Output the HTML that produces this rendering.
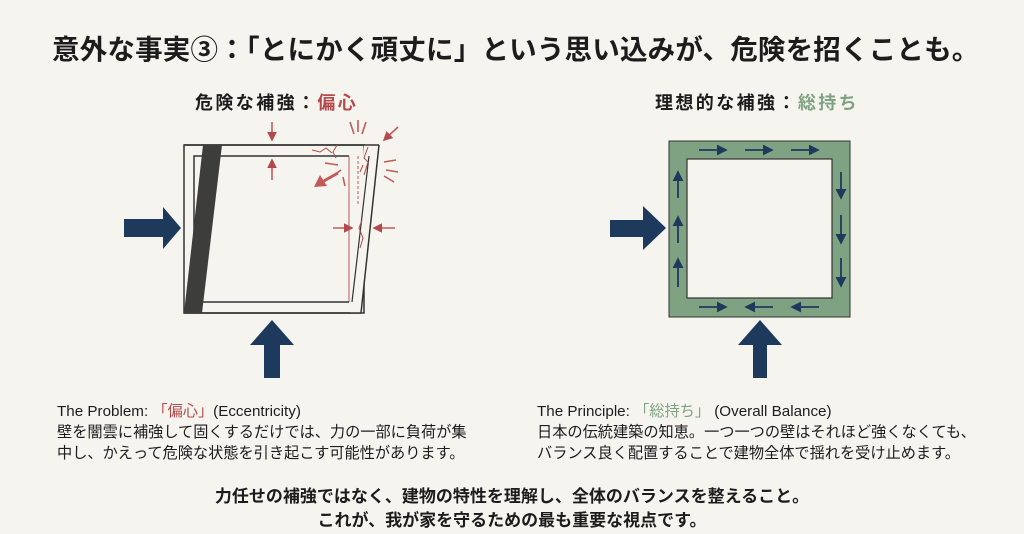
<!DOCTYPE html>
<html><head><meta charset="utf-8"><style>
body{margin:0;width:1024px;height:534px;background:#f6f4ef;overflow:hidden;position:relative;font-family:"Liberation Sans","Noto Sans CJK JP",sans-serif;color:#1c1c1c}
.t{position:absolute;white-space:nowrap}
</style></head><body>
<div class="t" style="left:52px;top:27px;font-size:27.5px;font-weight:bold;letter-spacing:0.2px">意外な事実③：「とにかく頑丈に」という思い込みが、危険を招くことも。</div>
<div class="t" style="left:195px;top:89px;font-size:18px;font-weight:bold;letter-spacing:2.4px">危険な補強：<span style="color:#b5484a">偏心</span></div>
<div class="t" style="left:655px;top:89px;font-size:18px;font-weight:bold;letter-spacing:2.4px">理想的な補強：<span style="color:#7fa283">総持ち</span></div>
<svg width="1024" height="534" style="position:absolute;left:0;top:0">
<defs>
<marker id="rh" markerWidth="6" markerHeight="6" refX="5" refY="3" orient="auto"><path d="M0,0 L6,3 L0,6 z" fill="#b5484a"/></marker>
<marker id="bh" markerWidth="6" markerHeight="6" refX="5" refY="3" orient="auto"><path d="M0,0 L6,3 L0,6 z" fill="#1d3a5c"/></marker>
</defs>
<rect x="184" y="145" width="180" height="168" fill="none" stroke="#333" stroke-width="1.5"/>
<polygon points="364,145 379,145 361,313 350,313" fill="#f6f4ef"/>
<line x1="184" y1="313" x2="361" y2="313" stroke="#333" stroke-width="1.5"/>
<line x1="379" y1="145" x2="361" y2="313" stroke="#333" stroke-width="1.5"/>
<line x1="184" y1="145" x2="379" y2="145" stroke="#333" stroke-width="1.5"/>
<polyline points="194,302 194,156 349,156" fill="none" stroke="#333" stroke-width="1.5"/>
<line x1="349" y1="156" x2="349" y2="302" stroke="#c25a5a" stroke-width="1"/>
<line x1="194" y1="302" x2="349" y2="302" stroke="#333" stroke-width="1.5"/>
<line x1="369" y1="156" x2="352" y2="302" stroke="#333" stroke-width="1.2"/>
<line x1="358" y1="156" x2="358" y2="205" stroke="#c25a5a" stroke-width="1" stroke-dasharray="3,2"/>
<polygon points="203,145 222,145 202,313 184,313" fill="#3d3d3b"/>
<path d="M312,150 L320,152 L326,148 L332,153 M337,145 L333,152 L336,158 M368,147 L364,158 L368,162 L364,175 M363,165 L360,172 M362,220 L359,228 L363,238 L360,248" stroke="#b5484a" stroke-width="1" fill="none"/>
<line x1="272" y1="122" x2="272" y2="140" stroke="#c25a5a" stroke-width="1.6" marker-end="url(#rh)"/>
<line x1="272" y1="180" x2="272" y2="160" stroke="#c25a5a" stroke-width="1.6" marker-end="url(#rh)"/>
<line x1="333" y1="228" x2="352" y2="228" stroke="#c25a5a" stroke-width="1.6" marker-end="url(#rh)"/>
<line x1="395" y1="228" x2="374" y2="228" stroke="#c25a5a" stroke-width="1.6" marker-end="url(#rh)"/>
<line x1="398" y1="127" x2="384" y2="140" stroke="#c25a5a" stroke-width="1.6" marker-end="url(#rh)"/>
<line x1="338" y1="173" x2="322" y2="182" stroke="#c25a5a" stroke-width="3"/>
<polygon points="314,187 320,175 327,186" fill="#c25a5a"/>
<g stroke="#c25a5a" stroke-width="1.6">
<line x1="350" y1="122" x2="354" y2="134"/><line x1="358" y1="120" x2="358" y2="132"/><line x1="366" y1="122" x2="362" y2="134"/>
<line x1="384" y1="162" x2="396" y2="160"/><line x1="386" y1="170" x2="398" y2="172"/><line x1="384" y1="176" x2="394" y2="182"/>
<line x1="325" y1="163" x2="338" y2="165"/><line x1="333" y1="176" x2="341" y2="170"/><line x1="343" y1="177" x2="345" y2="186"/>
</g>
<polygon points="124,219 163,219 163,207 181,228 163,249 163,237 124,237" fill="#1d3a5c"/>
<polygon points="272,320 294,345 280,345 280,378 264,378 264,345 250,345" fill="#1d3a5c"/>
<rect x="669" y="141" width="181" height="176" fill="#7fa283" stroke="#333" stroke-width="1"/>
<rect x="687" y="159" width="145" height="139" fill="#f6f4ef" stroke="#333" stroke-width="1.2"/>
<g stroke="#1d3a5c" stroke-width="1.8">
<line x1="699" y1="150" x2="726" y2="150" marker-end="url(#bh)"/>
<line x1="745" y1="150" x2="772" y2="150" marker-end="url(#bh)"/>
<line x1="791" y1="150" x2="818" y2="150" marker-end="url(#bh)"/>
<line x1="841" y1="172" x2="841" y2="198" marker-end="url(#bh)"/>
<line x1="841" y1="215" x2="841" y2="243" marker-end="url(#bh)"/>
<line x1="841" y1="258" x2="841" y2="286" marker-end="url(#bh)"/>
<line x1="699" y1="307" x2="726" y2="307" marker-end="url(#bh)"/>
<line x1="773" y1="307" x2="746" y2="307" marker-end="url(#bh)"/>
<line x1="819" y1="307" x2="792" y2="307" marker-end="url(#bh)"/>
<line x1="678" y1="287" x2="678" y2="259" marker-end="url(#bh)"/>
<line x1="678" y1="243" x2="678" y2="217" marker-end="url(#bh)"/>
<line x1="678" y1="198" x2="678" y2="172" marker-end="url(#bh)"/>
</g>
<polygon points="610,220 643,220 643,206 666,228 643,250 643,237 610,237" fill="#1d3a5c"/>
<polygon points="760,320 782,345 767,345 767,378 753,378 753,345 738,345" fill="#1d3a5c"/>
</svg>
<div class="t" style="left:57px;top:401px;font-size:15.2px;line-height:21px">The Problem: <span style="color:#b5484a">「偏心」</span>(Eccentricity)<br>壁を闇雲に補強して固くするだけでは、力の一部に負荷が集<br>中し、かえって危険な状態を引き起こす可能性があります。</div>
<div class="t" style="left:537px;top:401px;font-size:15.2px;line-height:21px">The Principle: <span style="color:#7fa283">「総持ち」</span> (Overall Balance)<br>日本の伝統建築の知恵。一つ一つの壁はそれほど強くなくても、<br>バランス良く配置することで建物全体で揺れを受け止めます。</div>
<div class="t" style="left:0;width:1024px;text-align:center;top:485px;font-size:17px;font-weight:bold;line-height:24px">力任せの補強ではなく、建物の特性を理解し、全体のバランスを整えること。<br>これが、我が家を守るための最も重要な視点です。</div>
</body></html>
